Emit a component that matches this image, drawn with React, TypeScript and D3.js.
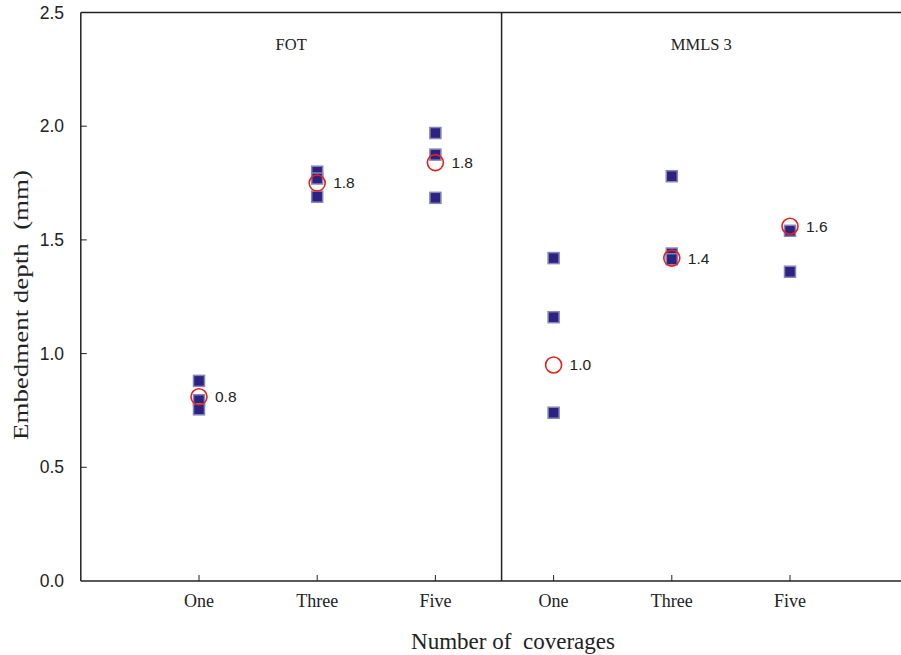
import React from 'react';
import * as d3 from 'd3';

// categories (FOT panel then MMLS 3 panel)
const panels = ['FOT', 'MMLS 3'];
const coverages = ['One', 'Three', 'Five'];
// individual measurements per panel / coverage
const fotValues = [[0.88, 0.795, 0.755], [1.80, 1.77, 1.69], [1.97, 1.875, 1.685]];
const mmlsValues = [[1.42, 1.16, 0.74], [1.78, 1.44, 1.415], [1.54, 1.36]];
// means (red circles) and their labels
const fotMeans = [0.81, 1.75, 1.84];
const mmlsMeans = [0.95, 1.42, 1.56];
const fotLabels = ['0.8', '1.8', '1.8'];
const mmlsLabels = ['1.0', '1.4', '1.6'];
const yTicks = [0, 0.5, 1.0, 1.5, 2.0, 2.5];

const W = 901, H = 655;
const serif = '"Liberation Serif", "Times New Roman", serif';
const sans = '"Liberation Sans", Arial, sans-serif';

export default function App() {
  // one index per category slot, 0..5, left axis sits one slot before the first
  const x = d3.scaleLinear().domain([0, 5]).range([199, 790]);
  const y = d3.scaleLinear().domain([0, 2.5]).range([581, 12.5]);
  const left = x(-1);
  const divider = x(2.56);
  const axisColor = '#222';

  const groups = [
    { values: fotValues, means: fotMeans, labels: fotLabels, offset: 0 },
    { values: mmlsValues, means: mmlsMeans, labels: mmlsLabels, offset: 3 },
  ];
  const panelCenters = [(left + divider) / 2, (divider + W) / 2];

  return (
    <svg width={W} height={H} style={{ position: 'absolute', left: 0, top: 0, background: '#fff' }}>
      {/* frame */}
      <line x1={left} x2={W} y1={y(2.5)} y2={y(2.5)} stroke={axisColor} strokeWidth={1.5} />
      <line x1={left} x2={W} y1={y(0)} y2={y(0)} stroke={axisColor} strokeWidth={1.5} />
      <line x1={left} x2={left} y1={y(2.5)} y2={y(0)} stroke={axisColor} strokeWidth={1.5} />
      <line x1={divider} x2={divider} y1={y(2.5)} y2={y(0)} stroke={axisColor} strokeWidth={1.5} />

      {/* y ticks */}
      {yTicks.map(t => (
        <g key={t}>
          {t > 0 && t < 2.5 && <line x1={left} x2={left + 6} y1={y(t)} y2={y(t)} stroke={axisColor} />}
          <text x={64} y={y(t)} dy="0.35em" textAnchor="end" fontFamily={sans} fontSize={17.5} fill="#222">
            {t.toFixed(1)}
          </text>
        </g>
      ))}

      {/* x ticks */}
      {panels.map((p, pi) => coverages.map((c, ci) => {
        const cx = x(pi * 3 + ci);
        return (
          <g key={p + c}>
            <line x1={cx} x2={cx} y1={y(0)} y2={y(0) - 6} stroke={axisColor} />
            <text x={cx} y={607} textAnchor="middle" fontFamily={serif} fontSize={18} fill="#222">{c}</text>
          </g>
        );
      }))}

      {/* panel titles */}
      {panels.map((p, pi) => (
        <text key={p} x={panelCenters[pi]} y={50} textAnchor="middle" fontFamily={serif} fontSize={16.5} fill="#222">{p}</text>
      ))}

      {/* points */}
      {groups.map((g, gi) => g.values.map((vals, ci) => {
        const cx = x(g.offset + ci);
        return (
          <g key={gi + '-' + ci}>
            {vals.map((v, vi) => (
              <rect key={vi} x={cx - 5.5} y={y(v) - 5.5} width={11} height={11}
                fill="#2e2280" stroke="#8585bd" strokeWidth={1.5} />
            ))}
            <circle cx={cx} cy={y(g.means[ci])} r={8} fill="none" stroke="#e3241c" strokeWidth={1.6} />
            <text x={cx + 16} y={y(g.means[ci])} dy="0.35em" fontFamily={sans} fontSize={15.5} fill="#222">
              {g.labels[ci]}
            </text>
          </g>
        );
      }))}

      {/* axis titles */}
      <text x={513} y={649} textAnchor="middle" fontFamily={serif} fontSize={22.5} fill="#222"
        textLength={204} lengthAdjust="spacingAndGlyphs" style={{ whiteSpace: 'pre' }}>
        Number of  coverages
      </text>
      <text transform={`translate(28,305) rotate(-90)`} textAnchor="middle"
        fontFamily={serif} fontSize={20.5} fill="#222"
        textLength={270} lengthAdjust="spacingAndGlyphs" style={{ whiteSpace: 'pre' }}>
        Embedment depth  (mm)
      </text>
    </svg>
  );
}
